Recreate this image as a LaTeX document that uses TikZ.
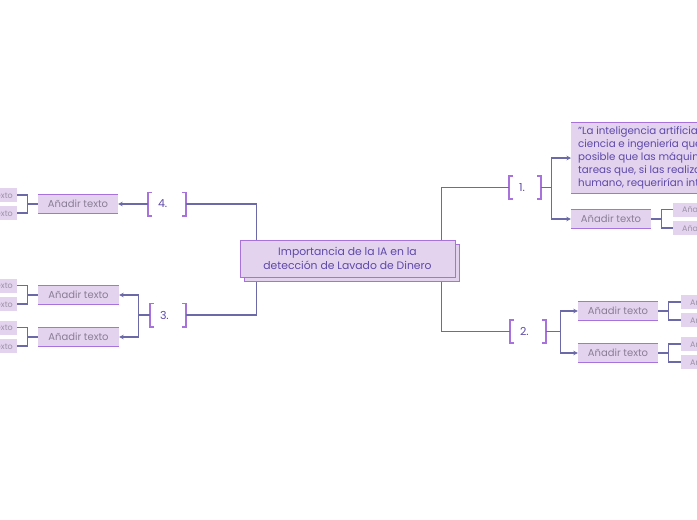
\documentclass[tikz,border=0pt]{standalone}
\usepackage{fontspec}
\setmainfont{Poppins}
\usetikzlibrary{arrows.meta}
\definecolor{boxfill}{HTML}{E3D3EF}
\definecolor{bordc}{HTML}{A772DC}
\definecolor{connc}{HTML}{6C6AA6}
\definecolor{ctext}{HTML}{5D49A8}
\definecolor{gtext}{HTML}{8B7D95}
\newcommand{\brk}[1]{%
  \draw[brkline] ([xshift=4pt]#1.north west) -- (#1.north west) -- (#1.south west) -- ([xshift=4pt]#1.south west);
  \draw[brkline] ([xshift=-4pt]#1.north east) -- (#1.north east) -- (#1.south east) -- ([xshift=-4pt]#1.south east);}
\newcommand{\tbb}[1]{%
  \draw[bordc, line width=1pt] (#1.north west) -- (#1.north east);
  \draw[bordc, line width=1.4pt] (#1.south west) -- (#1.south east);}
\begin{document}
\begin{tikzpicture}[x=1pt,y=-1pt,
  centerbox/.style={fill=boxfill, draw=bordc, line width=1pt, text=ctext, align=center,
    minimum width=215pt, minimum height=37pt, inner sep=0pt, font=\fontsize{10.8}{14}\selectfont},
  shadowbox/.style={fill=boxfill, draw=bordc, line width=1pt, minimum width=215pt, minimum height=37pt, inner sep=0pt},
  brnode/.style={minimum height=23pt, inner ysep=0pt, inner xsep=10pt, align=left, text=ctext,
    font=\fontsize{11}{13}\selectfont},
  addbox/.style={fill=boxfill, text=gtext, minimum height=19pt, inner sep=0pt, font=\fontsize{10}{12}\selectfont},
  smallbox/.style={fill=boxfill, text=gtext!85, minimum height=14pt, inner ysep=0pt, font=\fontsize{8}{10}\selectfont},
  quotebox/.style={fill=boxfill, text=ctext, minimum height=70pt, inner xsep=7pt, inner ysep=0pt, align=left, anchor=west,
    font=\fontsize{10.3}{13}\selectfont},
  conn/.style={draw=connc, line width=1.2pt},
  arr/.style={conn, -{Stealth[length=4.5pt,width=4.5pt]}},
  brkline/.style={draw=bordc, line width=1.6pt},
  rsmall/.style={smallbox, anchor=west, inner xsep=9pt},
  lsmall/.style={smallbox, anchor=east, inner xsep=4pt},
]
\clip (0,0) rectangle (697,520);
\useasboundingbox (0,0) rectangle (697,520);

% central
\node[shadowbox] (cs) at (351.5,262.5) {};
\node[centerbox] (c) at (347.5,258.5) {Importancia de la IA en la\\detección de Lavado de Dinero};

% bracket nodes
\node[brnode, text width=12pt] (n1) at (525,187.5) {1.};
\node[brnode, text width=16pt] (n2) at (528,331.5) {2.};
\node[brnode, text width=16pt] (n3) at (168,315) {3.};
\node[brnode, text width=18pt] (n4) at (167,204) {4.};
\brk{n1}\brk{n2}\brk{n3}\brk{n4}

\draw[conn] ([xshift=17pt]c.north west) |- (n4.east);
\draw[conn] ([xshift=-14pt]c.north east) |- (n1.west);
\draw[conn] ([xshift=13pt]cs.south west) |- (n3.east);
\draw[conn] ([xshift=-18pt]cs.south east) |- (n2.west);

% branch 1
\node[quotebox] (q) at (571,158) {"La inteligencia artificial es la\\ciencia e ingeniería que hace\\posible que las máquinas realicen\\tareas que, si las realizara un\\humano, requerirían inteligencia"};
\tbb{q}
\node[addbox, minimum width=80pt] (a1) at (611,219) {Añadir texto};
\tbb{a1}
\draw[arr] (n1.east) -- ++(10,0) |- (q.west);
\draw[arr] (n1.east) -- ++(10,0) |- (a1.west);
\node[rsmall] (s1a) at (673,209.5) {Añadir texto};
\node[rsmall] (s1b) at (673,228) {Añadir texto};
\draw[conn] (a1.east) -- ++(10,0) |- (s1a.west);
\draw[conn] (a1.east) -- ++(10,0) |- (s1b.west);

% branch 2
\node[addbox, minimum width=80pt] (a2a) at (618,311) {Añadir texto};
\node[addbox, minimum width=80pt] (a2b) at (618,353) {Añadir texto};
\tbb{a2a}\tbb{a2b}
\draw[arr] (n2.east) -- ++(14,0) |- (a2a.west);
\draw[arr] (n2.east) -- ++(14,0) |- (a2b.west);
\node[rsmall] (s2a) at (681,302) {Añadir texto};
\node[rsmall] (s2b) at (681,320) {Añadir texto};
\node[rsmall] (s2c) at (681,344) {Añadir texto};
\node[rsmall] (s2d) at (681,362) {Añadir texto};
\draw[conn] (a2a.east) -- ++(10,0) |- (s2a.west);
\draw[conn] (a2a.east) -- ++(10,0) |- (s2b.west);
\draw[conn] (a2b.east) -- ++(10,0) |- (s2c.west);
\draw[conn] (a2b.east) -- ++(10,0) |- (s2d.west);

% branch 3
\node[addbox, minimum width=81pt] (a3a) at (78.5,295) {Añadir texto};
\node[addbox, minimum width=81pt] (a3b) at (78.5,337) {Añadir texto};
\tbb{a3a}\tbb{a3b}
\draw[arr] (n3.west) -- ++(-11,0) |- (a3a.east);
\draw[arr] (n3.west) -- ++(-11,0) |- (a3b.east);
\node[lsmall] (s3a) at (17,285.5) {Añadir texto};
\node[lsmall] (s3b) at (17,304) {Añadir texto};
\node[lsmall] (s3c) at (17,327.5) {Añadir texto};
\node[lsmall] (s3d) at (17,346) {Añadir texto};
\draw[conn] (a3a.west) -- ++(-10,0) |- (s3a.east);
\draw[conn] (a3a.west) -- ++(-10,0) |- (s3b.east);
\draw[conn] (a3b.west) -- ++(-10,0) |- (s3c.east);
\draw[conn] (a3b.west) -- ++(-10,0) |- (s3d.east);

% branch 4
\node[addbox, minimum width=80pt] (a4) at (78,204) {Añadir texto};
\tbb{a4}
\draw[arr] (n4.west) -- (a4.east);
\node[lsmall] (s4a) at (17,195) {Añadir texto};
\node[lsmall] (s4b) at (17,213) {Añadir texto};
\draw[conn] (a4.west) -- ++(-10,0) |- (s4a.east);
\draw[conn] (a4.west) -- ++(-10,0) |- (s4b.east);
\end{tikzpicture}
\end{document}
